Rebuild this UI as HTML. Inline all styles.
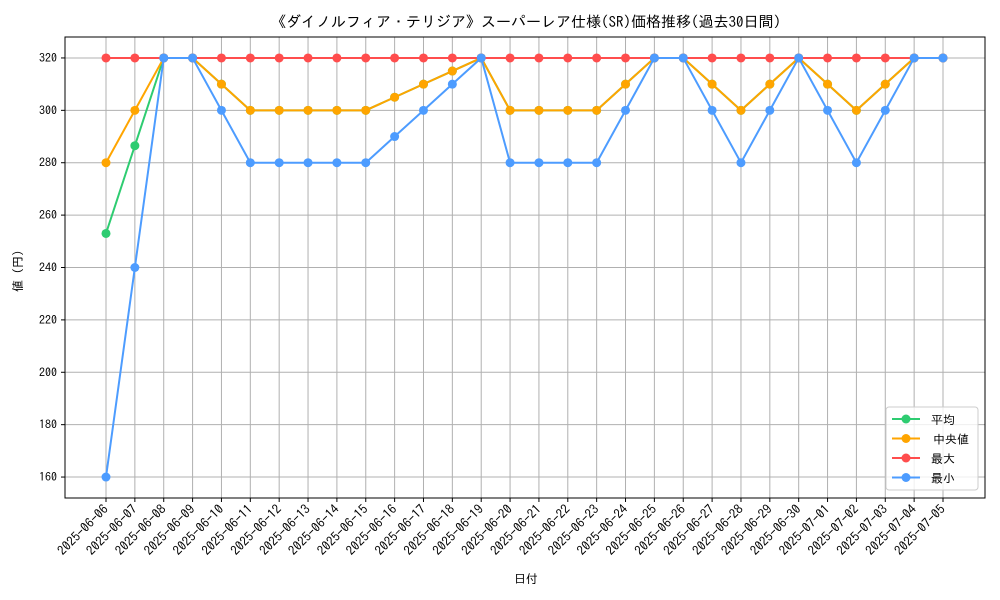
<!DOCTYPE html>
<html><head><meta charset="utf-8"><style>
html,body{margin:0;padding:0;background:#fff;}
svg{display:block;font-family:"IPAGothic","Liberation Sans","Noto Sans CJK JP",sans-serif;}
</style></head><body>
<svg id="chart" width="1000" height="600" xmlns="http://www.w3.org/2000/svg">
<rect width="1000" height="600" fill="#fff"/>
<text x="526" y="27" text-anchor="middle" font-size="15" fill="#000">《ダイノルフィア・テリジア》スーパーレア仕様(SR)価格推移(過去30日間)</text>
<g id="grid"></g><g id="series"></g><g id="axes"></g>
<text x="526" y="583" text-anchor="middle" font-size="12">日付</text>
<text x="22" y="268" text-anchor="middle" font-size="12" transform="rotate(-90 22 268)">値（円）</text>
<g id="legend"></g>
</svg>
<script>
const dates=["2025-06-06","2025-06-07","2025-06-08","2025-06-09","2025-06-10","2025-06-11","2025-06-12","2025-06-13","2025-06-14","2025-06-15","2025-06-16","2025-06-17","2025-06-18","2025-06-19","2025-06-20","2025-06-21","2025-06-22","2025-06-23","2025-06-24","2025-06-25","2025-06-26","2025-06-27","2025-06-28","2025-06-29","2025-06-30","2025-07-01","2025-07-02","2025-07-03","2025-07-04","2025-07-05"];
const meanVals=[253,286.5,320,320,310,300,300,300,300,300,305,310,315,320,300,300,300,300,310,320,320,310,300,310,320,310,300,310,320,320];
const medianVals=[280,300,320,320,310,300,300,300,300,300,305,310,315,320,300,300,300,300,310,320,320,310,300,310,320,310,300,310,320,320];
const maxVals=[320,320,320,320,320,320,320,320,320,320,320,320,320,320,320,320,320,320,320,320,320,320,320,320,320,320,320,320,320,320];
const minVals=[160,240,320,320,300,280,280,280,280,280,290,300,310,320,280,280,280,280,300,320,320,300,280,300,320,300,280,300,320,320];
const yTicks=[160,180,200,220,240,260,280,300,320];
const NS="http://www.w3.org/2000/svg";
const L=65,R=985,T=37,B=498,yMin=152,yMax=328;
const x=i=>106+i*(943-106)/(dates.length-1);
const y=v=>B-(v-yMin)/(yMax-yMin)*(B-T);
function mk(tag,attrs,parent){const e=document.createElementNS(NS,tag);for(const k in attrs)e.setAttribute(k,attrs[k]);parent.appendChild(e);return e;}
const grid=document.getElementById('grid'),axes=document.getElementById('axes'),ser=document.getElementById('series'),leg=document.getElementById('legend');
dates.forEach((d,i)=>{
 const g=mk('line',{x1:x(i),x2:x(i),y1:T,y2:B,stroke:'#b0b0b0','stroke-width':1},grid);
 
 
 mk('line',{x1:x(i),x2:x(i),y1:B,y2:B+4,stroke:'#000'},axes);
 const t=mk('text',{x:x(i)+3,y:B+12,'text-anchor':'end','font-size':13,transform:`rotate(-45 ${x(i)+3} ${B+12})`},axes);
 t.textContent=d;
 
 
});
yTicks.forEach(v=>{
 const g=mk('line',{x1:L,x2:R,y1:y(v),y2:y(v),stroke:'#b0b0b0','stroke-width':1},grid);
 
 
 mk('line',{x1:L-4,x2:L,y1:y(v),y2:y(v),stroke:'#000'},axes);
 const t=mk('text',{x:L-8,y:y(v)+4,'text-anchor':'end','font-size':12},axes);
 t.textContent=v;
 
 
});
const frame=mk('rect',{x:L,y:T,width:R-L,height:B-T,fill:'none',stroke:'#000','stroke-width':1},axes);


const series=[["平均",meanVals,"#2ecc71","mean"],["中央値",medianVals,"#ffa500","median"],["最大",maxVals,"#ff4d4d","max"],["最小",minVals,"#4d9cff","min"]];
series.forEach(([name,vals,col,key],si)=>{
 const g=mk('g',{},ser);
 
 
 const p=mk('polyline',{points:vals.map((v,i)=>x(i)+','+y(v)).join(' '),fill:'none',stroke:col,'stroke-width':2},g);
 
 
 vals.forEach((v,i)=>{
  const c=mk('circle',{cx:x(i),cy:y(v),r:4.5,fill:col},g);
  
  
 });
 const ly=419+si*19.5;
 mk('line',{x1:892,x2:920,y1:ly,y2:ly,stroke:col,'stroke-width':2},leg);
 mk('circle',{cx:906,cy:ly,r:4.5,fill:col},leg);
 const t=mk('text',{x:si==1?933:931,y:ly+5,'font-size':12},leg);
 t.textContent=name;
 
 
});
const lb=mk('rect',{x:886,y:407,width:92,height:83,rx:3,fill:'#fff','fill-opacity':0.8,stroke:'#ccc'},leg);
leg.insertBefore(lb,leg.firstChild);


</script>
</body></html>
